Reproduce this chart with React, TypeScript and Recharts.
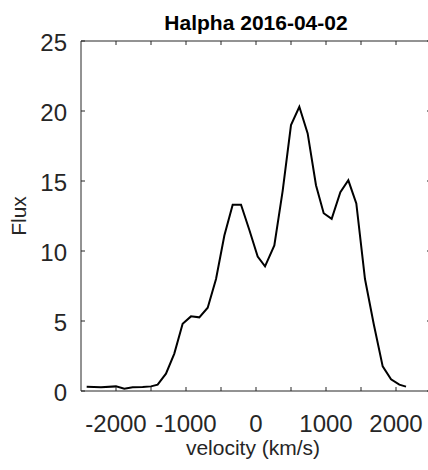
import React from 'react';
import { LineChart, Line, XAxis, YAxis } from 'recharts';

const velocity = [
  -2419, -2214, -2000, -1881, -1762, -1619, -1500, -1405, -1286, -1167,
  -1048, -929, -810, -690, -571, -452, -333, -214, -95, 24,
  129, 262, 381, 500, 619, 738, 857, 967, 1081, 1205,
  1319, 1433, 1557, 1681, 1810, 1929, 2048, 2143,
];
const flux = [
  0.31, 0.26, 0.33, 0.17, 0.26, 0.29, 0.33, 0.45, 1.24, 2.67,
  4.8, 5.33, 5.26, 5.95, 8.0, 11.1, 13.3, 13.3, 11.5, 9.6,
  8.9, 10.4, 14.3, 19.0, 20.3, 18.4, 14.7, 12.7, 12.3, 14.2,
  15.05, 13.4, 8.0, 4.8, 1.76, 0.83, 0.45, 0.31,
];
const xTicks = [-2000, -1500, -1000, -500, 0, 500, 1000, 1500, 2000];
const xLabels = [-2000, -1000, 0, 1000, 2000];
const yTicks = [0, 5, 10, 15, 20, 25];

const data = velocity.map((v, i) => ({ v, f: flux[i] }));

const INK = '#262626';
const FONT = '"Liberation Sans", Arial, sans-serif';
const TICK = 4;

const BottomTick = (props: any) => {
  const { x, y, payload } = props;
  const show = xLabels.includes(payload.value);
  return (
    <g>
      <line x1={x} x2={x} y1={y} y2={y - TICK} stroke={INK} strokeWidth={1} />
      {show && (
        <text x={x} y={y + 41} textAnchor="middle" fontSize={24} fontFamily={FONT} fill={INK}>
          {payload.value}
        </text>
      )}
    </g>
  );
};

const TopTick = (props: any) => {
  const { x, y } = props;
  return <line x1={x} x2={x} y1={y} y2={y + TICK} stroke={INK} strokeWidth={1} />;
};

const LeftTick = (props: any) => {
  const { x, y, payload } = props;
  return (
    <g>
      <line x1={x} x2={x + TICK} y1={y} y2={y} stroke={INK} strokeWidth={1} />
      <text x={x - 14} y={y + 10} textAnchor="end" fontSize={24} fontFamily={FONT} fill={INK}>
        {payload.value}
      </text>
    </g>
  );
};

const RightTick = (props: any) => {
  const { x, y } = props;
  return <line x1={x} x2={x - TICK} y1={y} y2={y} stroke={INK} strokeWidth={1} />;
};

export default function App() {
  return (
    <div style={{ position: 'absolute', left: 0, top: 0, width: 428, height: 470, overflow: 'hidden', background: '#fff' }}>
      <LineChart width={440} height={470} data={data} margin={{ top: 40, right: 8, bottom: 49, left: 21 }}>
        <XAxis
          xAxisId="b"
          dataKey="v"
          type="number"
          domain={[-2500, 2500]}
          ticks={xTicks}
          allowDataOverflow
          height={30}
          tickSize={0}
          tickMargin={0}
          tickLine={false}
          axisLine={{ stroke: INK, strokeWidth: 1 }}
          tick={(p: any) => <BottomTick {...p} />}
          interval={0}
        />
        <XAxis
          xAxisId="t"
          orientation="top"
          dataKey="v"
          type="number"
          domain={[-2500, 2500]}
          ticks={xTicks}
          allowDataOverflow
          height={1}
          tickSize={0}
          tickMargin={0}
          tickLine={false}
          axisLine={{ stroke: INK, strokeWidth: 1 }}
          tick={(p: any) => <TopTick {...p} />}
          interval={0}
        />
        <YAxis
          yAxisId="l"
          type="number"
          domain={[0, 25]}
          ticks={yTicks}
          allowDataOverflow
          width={60}
          tickSize={0}
          tickMargin={0}
          tickLine={false}
          axisLine={{ stroke: INK, strokeWidth: 1 }}
          tick={(p: any) => <LeftTick {...p} />}
          interval={0}
        />
        <YAxis
          yAxisId="r"
          orientation="right"
          type="number"
          domain={[0, 25]}
          ticks={yTicks}
          allowDataOverflow
          width={1}
          tickSize={0}
          tickMargin={0}
          tickLine={false}
          axisLine={{ stroke: INK, strokeWidth: 1 }}
          tick={(p: any) => <RightTick {...p} />}
          interval={0}
        />
        <Line
          xAxisId="b"
          yAxisId="l"
          type="linear"
          dataKey="f"
          stroke="#000"
          strokeWidth={2}
          dot={false}
          isAnimationActive={false}
        />
        <text x={256} y={30} textAnchor="middle" fontSize={21} fontWeight="bold" fontFamily={FONT} fill="#000">
          Halpha 2016-04-02
        </text>
        <text x={253} y={455} textAnchor="middle" fontSize={21} fontFamily={FONT} fill={INK}>
          velocity (km/s)
        </text>
        <text transform="translate(26,216) rotate(-90)" textAnchor="middle" fontSize={21} fontFamily={FONT} fill={INK}>
          Flux
        </text>
      </LineChart>
    </div>
  );
}
